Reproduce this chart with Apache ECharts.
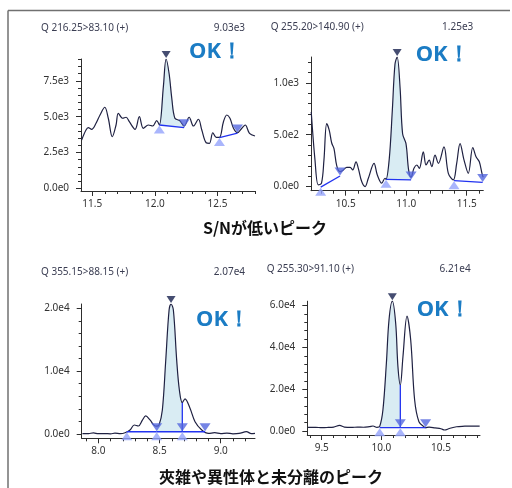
<!DOCTYPE html>
<html><head><meta charset="utf-8">
<script src="https://cdn.jsdelivr.net/npm/echarts@6/dist/echarts.min.js"></script>
<style>html,body{margin:0;padding:0;background:#fff}#c{width:512px;height:488px}</style>
</head><body><div id="c"></div>
<script>
// ---------- Panel 1: Q 216.25>83.10 (+) ----------
const p1Time = [11.415, 11.45, 11.468, 11.495, 11.53, 11.562, 11.60, 11.628, 11.66, 11.69, 11.708, 11.743, 11.77, 11.796, 11.842, 11.876, 11.908, 11.948, 11.983, 12.015, 12.036, 12.068, 12.09, 12.114, 12.135, 12.16, 12.20, 12.234, 12.274, 12.308, 12.348, 12.375, 12.41, 12.436, 12.463, 12.49, 12.516, 12.548, 12.575, 12.60, 12.628, 12.66, 12.695, 12.722, 12.756, 12.80];
const p1Signal = [3370, 4070, 4230, 4120, 4540, 5120, 5660, 4890, 3600, 4420, 5240, 4890, 4960, 4650, 4120, 5000, 4190, 4420, 4350, 4720, 4420, 7100, 9030, 8000, 6300, 4890, 4720, 4350, 4960, 4350, 4820, 4070, 3180, 3140, 3880, 3560, 3560, 4650, 5120, 4890, 4190, 3880, 4190, 4420, 3840, 3650];
const p1Apex = [12.09, 9030];
const p1Baselines = [[[12.036, 4420], [12.234, 4230]], [[12.516, 3540], [12.66, 3860]]];
const p1Drops = [];
const p1FillSegment = 0;

// ---------- Panel 2: Q 255.20>140.90 (+) ----------
const p2Time = [10.215, 10.246, 10.273, 10.30, 10.32, 10.343, 10.364, 10.384, 10.403, 10.426, 10.453, 10.48, 10.508, 10.536, 10.558, 10.585, 10.604, 10.632, 10.66, 10.687, 10.734, 10.761, 10.798, 10.825, 10.833, 10.86, 10.885, 10.907, 10.925, 10.949, 10.97, 10.998, 11.02, 11.04, 11.064, 11.087, 11.108, 11.141, 11.164, 11.19, 11.211, 11.238, 11.266, 11.312, 11.348, 11.389, 11.417, 11.445, 11.478, 11.513, 11.55, 11.577, 11.604, 11.626, 11.636];
const p2Signal = [720, 255, 16, 33, 255, 607, 543, 420, 367, 200, 144, 160, 186, 186, 160, 239, 176, 48, 0, 80, 224, 112, 33, 80, 70, 270, 733, 1180, 1250, 956, 510, 414, 158, 90, 176, 208, 176, 335, 208, 255, 191, 303, 224, 383, 128, 64, 224, 415, 255, 128, 377, 287, 239, 128, 90];
const p2Apex = [10.925, 1250];
const p2Baselines = [[[10.293, -6], [10.453, 102]], [[10.833, 70], [11.04, 64]], [[11.395, 57], [11.632, 40]]];
const p2Drops = [];
const p2FillSegment = 1;

// ---------- Panel 3: Q 355.15>88.15 (+) ----------
const p3Time = [7.87, 7.92, 7.96, 8.0, 8.05, 8.1, 8.136, 8.18, 8.218, 8.259, 8.294, 8.327, 8.36, 8.387, 8.422, 8.463, 8.477, 8.496, 8.523, 8.55, 8.578, 8.594, 8.613, 8.64, 8.662, 8.686, 8.708, 8.749, 8.79, 8.845, 8.9, 8.95, 9.0, 9.05, 9.1, 9.15, 9.21, 9.25, 9.28];
const p3Signal = [40, 60, 160, 40, 50, 30, 130, 60, 200, 640, 1430, 1270, 2200, 2870, 2230, 1270, 1250, 1430, 3820, 11500, 19750, 20700, 19750, 11800, 7000, 4980, 5600, 4090, 1960, 640, 100, 200, 60, 150, 30, 80, 370, 60, 100];
const p3Apex = [8.594, 20700];
const p3Baselines = [[[8.232, 350], [8.477, 350]], [[8.477, 350], [8.686, 350]], [[8.686, 350], [8.872, 350]]];
const p3Drops = [[[8.686, 350], [8.686, 4980]]];
const p3FillSegment = 1;

// ---------- Panel 4: Q 255.30>91.10 (+) ----------
const p4Time = [9.385, 9.45, 9.5, 9.55, 9.6, 9.65, 9.69, 9.75, 9.8, 9.85, 9.9, 9.93, 9.963, 9.986, 10.013, 10.042, 10.064, 10.092, 10.12, 10.139, 10.159, 10.181, 10.215, 10.246, 10.279, 10.315, 10.363, 10.371, 10.4, 10.45, 10.5, 10.53, 10.57, 10.63, 10.7, 10.74, 10.824];
const p4Signal = [1770, 1800, 1600, 1700, 1900, 2700, 1900, 1700, 1900, 1800, 2100, 2400, 1770, 2200, 10050, 32390, 53110, 62100, 51530, 30770, 22010, 35550, 55000, 43540, 14830, 4450, 1770, 1600, 1900, 1500, 1100, 480, 1200, 2060, 2300, 2390, 2390];
const p4Apex = [10.092, 62100];
const p4Baselines = [[[9.986, 1580], [10.159, 1580]], [[10.159, 1580], [10.371, 1580]]];
const p4Drops = [[[10.159, 1580], [10.159, 22010]]];
const p4FillSegment = 0;

// ---------- Axes: ranges and ticks ----------
const xRanges = [[11.41, 12.80], [10.213, 11.637], [7.864, 9.28], [9.379, 10.827]];
const yRanges = [[-190, 9030], [-40, 1250], [-690, 20700], [-1900, 62100]];
const xMajorTicks = [[11.5, 12.0, 12.5], [10.5, 11.0, 11.5], [8.0, 8.5, 9.0], [9.5, 10.0, 10.5]];
const xMinorTicks = [
  [11.5, 11.6, 11.7, 11.8, 11.9, 12.0, 12.1, 12.2, 12.3, 12.4, 12.5, 12.6, 12.7, 12.8],
  [10.3, 10.4, 10.5, 10.6, 10.7, 10.8, 10.9, 11.0, 11.1, 11.2, 11.3, 11.4, 11.5, 11.6],
  [7.9, 8.0, 8.1, 8.2, 8.3, 8.4, 8.5, 8.6, 8.7, 8.8, 8.9, 9.0, 9.1, 9.2],
  [9.4, 9.5, 9.6, 9.7, 9.8, 9.9, 10.0, 10.1, 10.2, 10.3, 10.4, 10.5, 10.6, 10.7, 10.8]
];
const yMajorTicks = [[0, 2500, 5000, 7500], [0, 500, 1000], [0, 10000, 20000], [0, 20000, 40000, 60000]];
const yMinorTicks = [
  [0, 500, 1000, 1500, 2000, 2500, 3000, 3500, 4000, 4500, 5000, 5500, 6000, 6500, 7000, 7500, 8000, 8500, 9000],
  [0, 100, 200, 300, 400, 500, 600, 700, 800, 900, 1000, 1100, 1200],
  [0, 2000, 4000, 6000, 8000, 10000, 12000, 14000, 16000, 18000, 20000],
  [0, 4000, 8000, 12000, 16000, 20000, 24000, 28000, 32000, 36000, 40000, 44000, 48000, 52000, 56000, 60000]
];

// ---------- Texts ----------
const transitionLabels = ['Q 216.25>83.10 (+)', 'Q 255.20>140.90 (+)', 'Q 355.15>88.15 (+)', 'Q 255.30>91.10 (+)'];
const maxLabels = ['9.03e3', '1.25e3', '2.07e4', '6.21e4'];
const okLabel = 'OK！';
const sectionTitles = ['S/Nが低いピーク', '夾雑や異性体と未分離のピーク'];

const panels = [
  {t: p1Time, s: p1Signal, apex: p1Apex, bl: p1Baselines, drops: p1Drops, fill: p1FillSegment},
  {t: p2Time, s: p2Signal, apex: p2Apex, bl: p2Baselines, drops: p2Drops, fill: p2FillSegment},
  {t: p3Time, s: p3Signal, apex: p3Apex, bl: p3Baselines, drops: p3Drops, fill: p3FillSegment},
  {t: p4Time, s: p4Signal, apex: p4Apex, bl: p4Baselines, drops: p4Drops, fill: p4FillSegment}
];

// layout (pixels)
const gridBoxes = [
  {left: 81, top: 59, width: 174, height: 132},
  {left: 311, top: 57, width: 172.3, height: 133.7},
  {left: 81.7, top: 304, width: 173.3, height: 134.3},
  {left: 307.3, top: 301.2, width: 172.7, height: 133.8}
];
const headPos = [
  {qx: 41, rx: 245, y: 28, okx: 189, oky: 52},
  {qx: 270.7, rx: 473.3, y: 27, okx: 415.7, oky: 55},
  {qx: 41, rx: 245, y: 272, okx: 196, oky: 320},
  {qx: 266.7, rx: 470.7, y: 269, okx: 416.7, oky: 310}
];

const FONT = '"Noto Sans", "DejaVu Sans", sans-serif';
const AX = '#2e2e2e';
const CURVE = '#1f2142';
const BASE = '#2233f0';
const FILL = '#d9ecf3';
const UP = '#93a3fb';
const DOWN = '#5466df';
const APEX = '#16204d';

const grid = [], xAxis = [], yAxis = [], series = [], graphic = [];

panels.forEach((p, k) => {
  grid.push(Object.assign({containLabel: false}, gridBoxes[k]));
  const xa = 2 * k, ya = 2 * k;
  xAxis.push({gridIndex: k, type: 'value', position: 'bottom', min: xRanges[k][0], max: xRanges[k][1],
    axisLine: {onZero: false, lineStyle: {color: AX, width: 1}},
    axisTick: {customValues: xMajorTicks[k], length: 5, lineStyle: {color: AX}},
    axisLabel: {customValues: xMajorTicks[k], formatter: v => v.toFixed(1), fontSize: 10, color: '#333', fontFamily: FONT, margin: 8},
    splitLine: {show: false}});
  xAxis.push({gridIndex: k, type: 'value', position: 'bottom', min: xRanges[k][0], max: xRanges[k][1],
    axisLine: {show: false, onZero: false},
    axisTick: {customValues: xMinorTicks[k], length: 3, lineStyle: {color: AX}},
    axisLabel: {show: false}, splitLine: {show: false}});
  yAxis.push({gridIndex: k, type: 'value', position: 'left', min: yRanges[k][0], max: yRanges[k][1],
    axisLine: {show: true, onZero: false, lineStyle: {color: AX, width: 1}},
    axisTick: {show: true, customValues: yMajorTicks[k], length: 5, lineStyle: {color: AX}},
    axisLabel: {customValues: yMajorTicks[k], formatter: v => v.toExponential(1).replace('+', ''), fontSize: 10, color: '#333', fontFamily: FONT, margin: 12},
    splitLine: {show: false}});
  yAxis.push({gridIndex: k, type: 'value', position: 'left', min: yRanges[k][0], max: yRanges[k][1],
    axisLine: {show: false, onZero: false},
    axisTick: {show: true, customValues: yMinorTicks[k], length: 3, lineStyle: {color: AX}},
    axisLabel: {show: false}, splitLine: {show: false}});

  const seg = p.bl[p.fill];
  series.push({type: 'custom', xAxisIndex: xa, yAxisIndex: ya, silent: true, z: 1, clip: true,
    data: [seg[0]],
    renderItem: (params, api) => {
      const pts = [api.coord(seg[0])];
      p.t.forEach((t, i) => { if (t >= seg[0][0] - 1e-9 && t <= seg[1][0] + 1e-9) pts.push(api.coord([t, p.s[i]])); });
      pts.push(api.coord(seg[1]));
      return {type: 'polygon', shape: {points: pts}, style: {fill: FILL, stroke: null}};
    }});
  series.push({type: 'line', xAxisIndex: xa, yAxisIndex: ya, z: 3, smooth: 0.35, symbol: 'none',
    data: p.t.map((t, i) => [t, p.s[i]]), lineStyle: {color: CURVE, width: 1.2}});
  p.bl.concat(p.drops).forEach(b => {
    series.push({type: 'line', xAxisIndex: xa, yAxisIndex: ya, z: 4, symbol: 'none', data: b,
      lineStyle: {color: BASE, width: 1.3}});
  });
  series.push({type: 'scatter', xAxisIndex: xa, yAxisIndex: ya, z: 5, clip: false, symbol: 'triangle',
    symbolSize: [11, 8], symbolOffset: [0, 4.5], itemStyle: {color: UP}, data: p.bl.map(b => b[0])});
  series.push({type: 'scatter', xAxisIndex: xa, yAxisIndex: ya, z: 5, clip: false, symbol: 'triangle',
    symbolSize: [11, 8], symbolRotate: 180, symbolOffset: [0, -4.5], itemStyle: {color: DOWN}, data: p.bl.map(b => b[1])});
  series.push({type: 'scatter', xAxisIndex: xa, yAxisIndex: ya, z: 6, clip: false, symbol: 'triangle',
    symbolSize: [9, 7], symbolRotate: 180, symbolOffset: [0, -4.5], itemStyle: {color: APEX}, data: [p.apex]});

  const h = headPos[k];
  graphic.push({type: 'text', x: h.qx, y: h.y, style: {text: transitionLabels[k], fill: '#3a3d52', font: '10px ' + FONT, textAlign: 'left', textVerticalAlign: 'middle'}});
  graphic.push({type: 'text', x: h.rx, y: h.y, style: {text: maxLabels[k], fill: '#3a3d52', font: '10px ' + FONT, textAlign: 'right', textVerticalAlign: 'middle'}});
  graphic.push({type: 'text', x: h.okx, y: h.oky, style: {text: okLabel, fill: '#1b7cc4', font: 'bold 22px ' + FONT, textAlign: 'left', textVerticalAlign: 'middle'}});
});

graphic.push({type: 'text', x: 265, y: 227.5, style: {text: sectionTitles[0], fill: '#111', font: 'bold 16px "Noto Sans CJK JP", sans-serif', textAlign: 'center', textVerticalAlign: 'middle'}});
graphic.push({type: 'text', x: 271, y: 477, style: {text: sectionTitles[1], fill: '#111', font: 'bold 16px "Noto Sans CJK JP", sans-serif', textAlign: 'center', textVerticalAlign: 'middle'}});
graphic.push({type: 'line', shape: {x1: 8, y1: 10.5, x2: 510, y2: 10.5}, style: {stroke: '#707070', lineWidth: 1.5}});
graphic.push({type: 'line', shape: {x1: 8, y1: 10.5, x2: 8, y2: 488}, style: {stroke: '#707070', lineWidth: 1.5}});

const chart = echarts.init(document.getElementById('c'), null, {renderer: 'canvas'});
chart.setOption({animation: false, backgroundColor: '#fff', grid, xAxis, yAxis, series, graphic});
</script></body></html>
